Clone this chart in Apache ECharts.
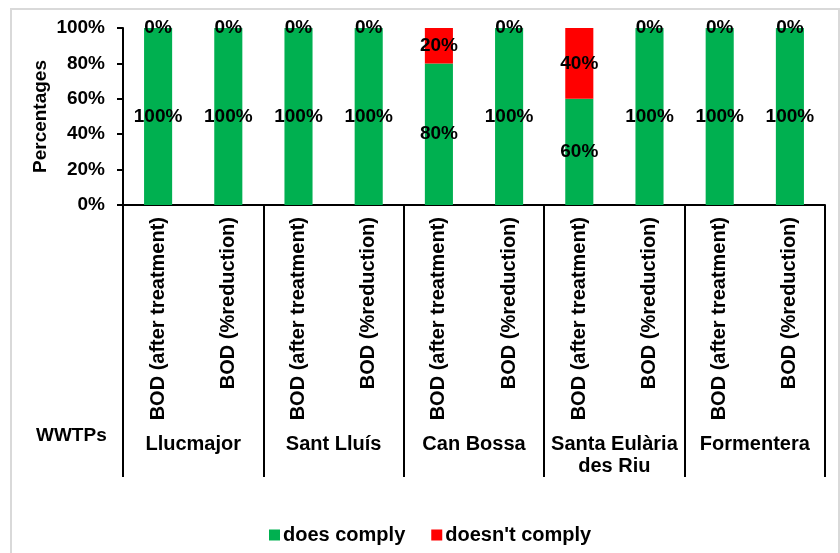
<!DOCTYPE html>
<html>
<head>
<meta charset="utf-8">
<script src="https://cdn.jsdelivr.net/npm/echarts@6/dist/echarts.min.js"></script>
<style>
  html, body { margin: 0; padding: 0; background: #fff; }
  #chart { width: 840px; height: 553px; }
</style>
</head>
<body>
<div id="chart"></div>
<script>
// Parameters per treatment plant, two per plant
const categories = [
  'BOD (after treatment)', 'BOD (%reduction)',
  'BOD (after treatment)', 'BOD (%reduction)',
  'BOD (after treatment)', 'BOD (%reduction)',
  'BOD (after treatment)', 'BOD (%reduction)',
  'BOD (after treatment)', 'BOD (%reduction)'
];
// Treatment plants (outer axis level)
const plants = ['Llucmajor', 'Sant Lluís', 'Can Bossa', 'Santa Eulària\ndes Riu', 'Formentera'];
// Share of samples, in percent
const doesComply = [100, 100, 100, 100, 80, 100, 60, 100, 100, 100];
const doesntComply = [0, 0, 0, 0, 20, 0, 40, 0, 0, 0];
const yTicks = [0, 20, 40, 60, 80, 100];

const FONT = 'Arial, "Liberation Sans", sans-serif';
const bold = { fontFamily: FONT, fontWeight: 'bold', fontSize: 19, color: '#000' };
const bold20 = { ...bold, fontSize: 20 };

const chart = echarts.init(document.getElementById('chart'), null, { renderer: 'canvas' });

const barLabel = {
  show: true,
  position: 'inside',
  formatter: '{c}%',
  ...bold,
  textBorderWidth: 0
};

chart.setOption({
  backgroundColor: '#fff',
  animation: false,
  title: {
    text: 'WWTPs',
    left: 36,
    top: 426,
    padding: 0,
    textStyle: { ...bold }
  },
  graphic: [{
    type: 'rect',
    shape: { x: 11, y: 9, width: 828, height: 560 },
    style: { fill: 'none', stroke: '#d9d9d9', lineWidth: 2 },
    silent: true
  }],
  grid: { left: 123, right: 15, top: 28, bottom: 348, containLabel: false },
  legend: {
    bottom: 8,
    left: 269,
    padding: 0,
    icon: 'rect',
    itemWidth: 11,
    itemHeight: 11,
    itemGap: 26,
    textStyle: { ...bold20, padding: [0, 0, 0, -2] },
    data: ['does comply', "doesn't comply"]
  },
  xAxis: [{
    type: 'category',
    data: categories,
    axisLine: { lineStyle: { color: '#000', width: 2 } },
    axisTick: { show: false },
    axisLabel: { ...bold20, rotate: 90, margin: 12, interval: 0 }
  }, {
    type: 'category',
    data: plants,
    position: 'bottom',
    axisLine: { show: false },
    axisTick: { show: true, length: 272, interval: 0, lineStyle: { color: '#000', width: 2 } },
    axisLabel: { ...bold20, margin: 228, interval: 0, lineHeight: 22 }
  }],
  yAxis: {
    type: 'value',
    min: yTicks[0],
    max: yTicks[yTicks.length - 1],
    interval: yTicks[1] - yTicks[0],
    name: 'Percentages',
    nameLocation: 'middle',
    nameGap: 73,
    nameMoveOverlap: false,
    nameTextStyle: { ...bold },
    splitLine: { show: false },
    axisLine: { show: true, lineStyle: { color: '#000', width: 2 } },
    axisTick: { show: true, length: 6, lineStyle: { color: '#000', width: 2 } },
    axisLabel: { ...bold, margin: 18, formatter: '{value}%' }
  },
  series: [{
    name: 'does comply',
    type: 'bar',
    stack: 'share',
    barWidth: '40%',
    itemStyle: { color: '#00B050' },
    label: barLabel,
    data: doesComply
  }, {
    name: "doesn't comply",
    type: 'bar',
    stack: 'share',
    barWidth: '40%',
    itemStyle: { color: '#FF0000' },
    label: barLabel,
    data: doesntComply
  }]
});
</script>
</body>
</html>
